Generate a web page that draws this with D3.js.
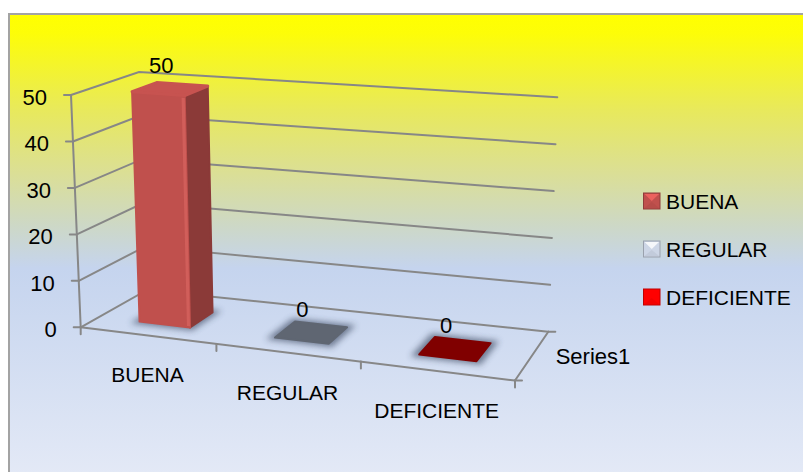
<!DOCTYPE html>
<html>
<head>
<meta charset="utf-8">
<script src="https://d3js.org/d3.v7.min.js"></script>
<style>
  body { margin: 0; padding: 0; background: #fff; }
  svg { display: block; }
  text { font-family: "Liberation Sans", Arial, sans-serif; fill: #000; }
  .grid { stroke: #878787; stroke-width: 2; fill: none; stroke-linecap: round; }
</style>
</head>
<body>
<div id="chart"></div>
<script>
// data
var categories = ["BUENA", "REGULAR", "DEFICIENTE"];
var values = [50, 0, 0];
var seriesName = "Series1";
var yTicks = [0, 10, 20, 30, 40, 50];

// colours per point (bar top/front) and legend swatches
var barColors = ["#c0504d", "#5f6672", "#800000"];
var legendColors = ["#c0504d", "#cdd6e6", "#ff0000"];

var W = 803, H = 472;

// screen corners of the 3d box (F/B = front/back, L/R, B/T = bottom/top)
var box = {
  FLB: [80.7, 327.3], FRB: [515, 380.5], BLB: [147, 290], BRB: [548.3, 331.7],
  FLT: [71, 95],      FRT: [524, 131],   BLT: [139, 72],  BRT: [557.3, 97.3]
};
var warpK = 1.1; // slight perspective along the category axis

function lerp(a, b, t) { return [a[0] + (b[0] - a[0]) * t, a[1] + (b[1] - a[1]) * t]; }
function warp(u) { return u / (u + warpK * (1 - u)); }
// u: category (0..1), v: value (0..1), w: depth (0 front .. 1 back)
function proj(u, v, w) {
  var s = warp(u);
  var bot = lerp(lerp(box.FLB, box.FRB, s), lerp(box.BLB, box.BRB, s), w);
  var top = lerp(lerp(box.FLT, box.FRT, s), lerp(box.BLT, box.BRT, s), w);
  return lerp(bot, top, v);
}
function poly(pts) { return "M" + pts.map(function(p) { return p[0] + "," + p[1]; }).join("L") + "Z"; }

var x = d3.scaleBand().domain(categories).range([0, 1]);
var y = d3.scaleLinear().domain([0, 50]).range([0, 1]);
var z = d3.scaleBand().domain([seriesName]).range([0, 1]);
var barFrac = 0.38, depthFrom = 0.28, depthTo = 0.66;

var svg = d3.select("#chart").append("svg").attr("width", W).attr("height", H);
var defs = svg.append("defs");

var grad = defs.append("linearGradient").attr("id", "bg")
  .attr("x1", 0).attr("y1", 0).attr("x2", 0).attr("y2", 1);
[[0, "#ffff00"], [0.04, "#fdfd08"], [0.2, "#e8e95c"], [0.33, "#dbdf95"],
 [0.44, "#cdd8c6"], [0.53, "#c5d4ee"], [1, "#e6ebf7"]]
  .forEach(function(s) { grad.append("stop").attr("offset", s[0]).attr("stop-color", s[1]); });

defs.append("filter").attr("id", "soft")
  .attr("x", "-50%").attr("y", "-50%").attr("width", "200%").attr("height", "200%")
  .append("feGaussianBlur").attr("stdDeviation", 3);

// chart area background
svg.append("rect")
  .attr("x", 9).attr("y", 14).attr("width", 820).attr("height", 480)
  .attr("fill", "url(#bg)")
  .attr("stroke", "#a3a3a3").attr("stroke-width", 2);

var g = svg.append("g");

// gridlines on side wall and back wall
yTicks.forEach(function(t) {
  var v = y(t);
  g.append("path").attr("class", "grid")
    .attr("d", "M" + proj(0, v, 0) + "L" + proj(0, v, 1) + "L" + proj(1, v, 1));
});

// value axis + ticks
g.append("path").attr("class", "grid").attr("d", "M" + proj(0, 0, 0) + "L" + proj(0, 1, 0));
yTicks.forEach(function(t) {
  var p = proj(0, y(t), 0);
  g.append("line").attr("class", "grid")
    .attr("x1", p[0] - 7).attr("y1", p[1]).attr("x2", p[0]).attr("y2", p[1]);
  g.append("text")
    .attr("x", p[0] - 24).attr("y", p[1] + 10)
    .attr("text-anchor", "end")
    .style("font-size", "22px")
    .text(t);
});

// category axis (front floor edge) + ticks
g.append("path").attr("class", "grid").attr("d", "M" + proj(0, 0, 0) + "L" + proj(1, 0, 0));
var edges = categories.map(function(c) { return x(c); }).concat([1]);
edges.forEach(function(u) {
  var p = proj(u, 0, 0);
  g.append("line").attr("class", "grid")
    .attr("x1", p[0]).attr("y1", p[1]).attr("x2", p[0]).attr("y2", p[1] + 7);
});

// depth axis + ticks
g.append("path").attr("class", "grid").attr("d", "M" + proj(1, 0, 0) + "L" + proj(1, 0, 1));
[0, 1].forEach(function(w) {
  var p = proj(1, 0, w);
  g.append("line").attr("class", "grid")
    .attr("x1", p[0]).attr("y1", p[1]).attr("x2", p[0] + 7).attr("y2", p[1]);
});

// bars
var bars = categories.map(function(c, i) {
  var bw = x.bandwidth();
  var u0 = x(c) + bw * (1 - barFrac) / 2, u1 = u0 + bw * barFrac;
  var w0 = z(seriesName) + z.bandwidth() * depthFrom, w1 = z(seriesName) + z.bandwidth() * depthTo;
  return { c: c, v: y(values[i]), u0: u0, u1: u1, w0: w0, w1: w1, color: barColors[i], value: values[i] };
});

var barG = g.append("g");
bars.forEach(function(b) {
  // soft shadow on the floor
  var pad = 0.014;
  barG.append("path")
    .attr("d", poly([proj(b.u0 - pad, 0, b.w0 - 0.06), proj(b.u1 + pad, 0, b.w0 - 0.06),
                     proj(b.u1 + pad, 0, b.w1 + 0.06), proj(b.u0 - pad, 0, b.w1 + 0.06)]))
    .attr("fill", "#2e3a52").attr("opacity", 0.6)
    .attr("filter", "url(#soft)");

  if (b.v > 0) {
    var base = d3.color(b.color);
    // right side
    barG.append("path")
      .attr("d", poly([proj(b.u1, 0, b.w0), proj(b.u1, 0, b.w1), proj(b.u1, b.v, b.w1), proj(b.u1, b.v, b.w0)]))
      .attr("fill", base.darker(0.9)).attr("stroke", base.darker(0.9))
      .attr("stroke-width", 2).attr("stroke-linejoin", "round");
    // front
    barG.append("path")
      .attr("d", poly([proj(b.u0, 0, b.w0), proj(b.u1, 0, b.w0), proj(b.u1, b.v, b.w0), proj(b.u0, b.v, b.w0)]))
      .attr("fill", b.color).attr("stroke", b.color)
      .attr("stroke-width", 2).attr("stroke-linejoin", "round");
    // highlight near front right edge
    var hu = b.u1 - (b.u1 - b.u0) * 0.06;
    barG.append("path")
      .attr("d", poly([proj(hu, 0.005, b.w0), proj(b.u1, 0.005, b.w0), proj(b.u1, b.v - 0.01, b.w0), proj(hu, b.v - 0.01, b.w0)]))
      .attr("fill", "#d4625e").attr("opacity", 0.8);
    // top
    barG.append("path")
      .attr("d", poly([proj(b.u0, b.v, b.w0), proj(b.u1, b.v, b.w0), proj(b.u1, b.v, b.w1), proj(b.u0, b.v, b.w1)]))
      .attr("fill", base.brighter(0.1)).attr("stroke", base.brighter(0.1))
      .attr("stroke-width", 3).attr("stroke-linejoin", "round");
  } else {
    barG.append("path")
      .attr("d", poly([proj(b.u0, 0, b.w0), proj(b.u1, 0, b.w0), proj(b.u1, 0, b.w1), proj(b.u0, 0, b.w1)]))
      .attr("fill", b.color).attr("stroke", b.color)
      .attr("stroke-width", 2).attr("stroke-linejoin", "round");
  }

  // value label
  var c = proj((b.u0 + b.u1) / 2, b.v, (b.w0 + b.w1) / 2);
  barG.append("text")
    .attr("x", c[0] - 9).attr("y", c[1] - 16)
    .attr("text-anchor", "middle")
    .style("font-size", "22px")
    .text(b.value);
});

// category labels
categories.forEach(function(c) {
  var p = proj(x(c) + x.bandwidth() / 2, 0, 0);
  g.append("text")
    .attr("x", p[0]).attr("y", p[1] + 47)
    .attr("text-anchor", "middle")
    .style("font-size", "21px")
    .text(c);
});

// series label on depth axis
var sp = proj(1, 0, z(seriesName) + z.bandwidth() / 2);
g.append("text")
  .attr("x", sp[0] + 24).attr("y", sp[1] + 8)
  .style("font-size", "22px")
  .text(seriesName);

// legend
var legend = svg.append("g").attr("transform", "translate(643.5,201)");
categories.forEach(function(c, i) {
  var row = legend.append("g").attr("transform", "translate(0," + (i * 48) + ")");
  var col = d3.color(legendColors[i]);
  var s = 16.5, h = s / 2;
  row.append("rect")
    .attr("x", 0).attr("y", -8).attr("width", s).attr("height", 16)
    .attr("fill", col).attr("stroke", col.darker(0.8)).attr("stroke-width", 1);
  row.append("path")
    .attr("d", poly([[1, -7], [s - 1, -7], [h, 0]]))
    .attr("fill", col.brighter(0.7)).attr("opacity", 0.8);
  row.append("path")
    .attr("d", poly([[1, 7], [s - 1, 7], [h, 1]]))
    .attr("fill", col.darker(0.3)).attr("opacity", 0.5);
  row.append("text")
    .attr("x", 22.5).attr("y", 7.5)
    .style("font-size", "21px")
    .text(c);
});
</script>
</body>
</html>
